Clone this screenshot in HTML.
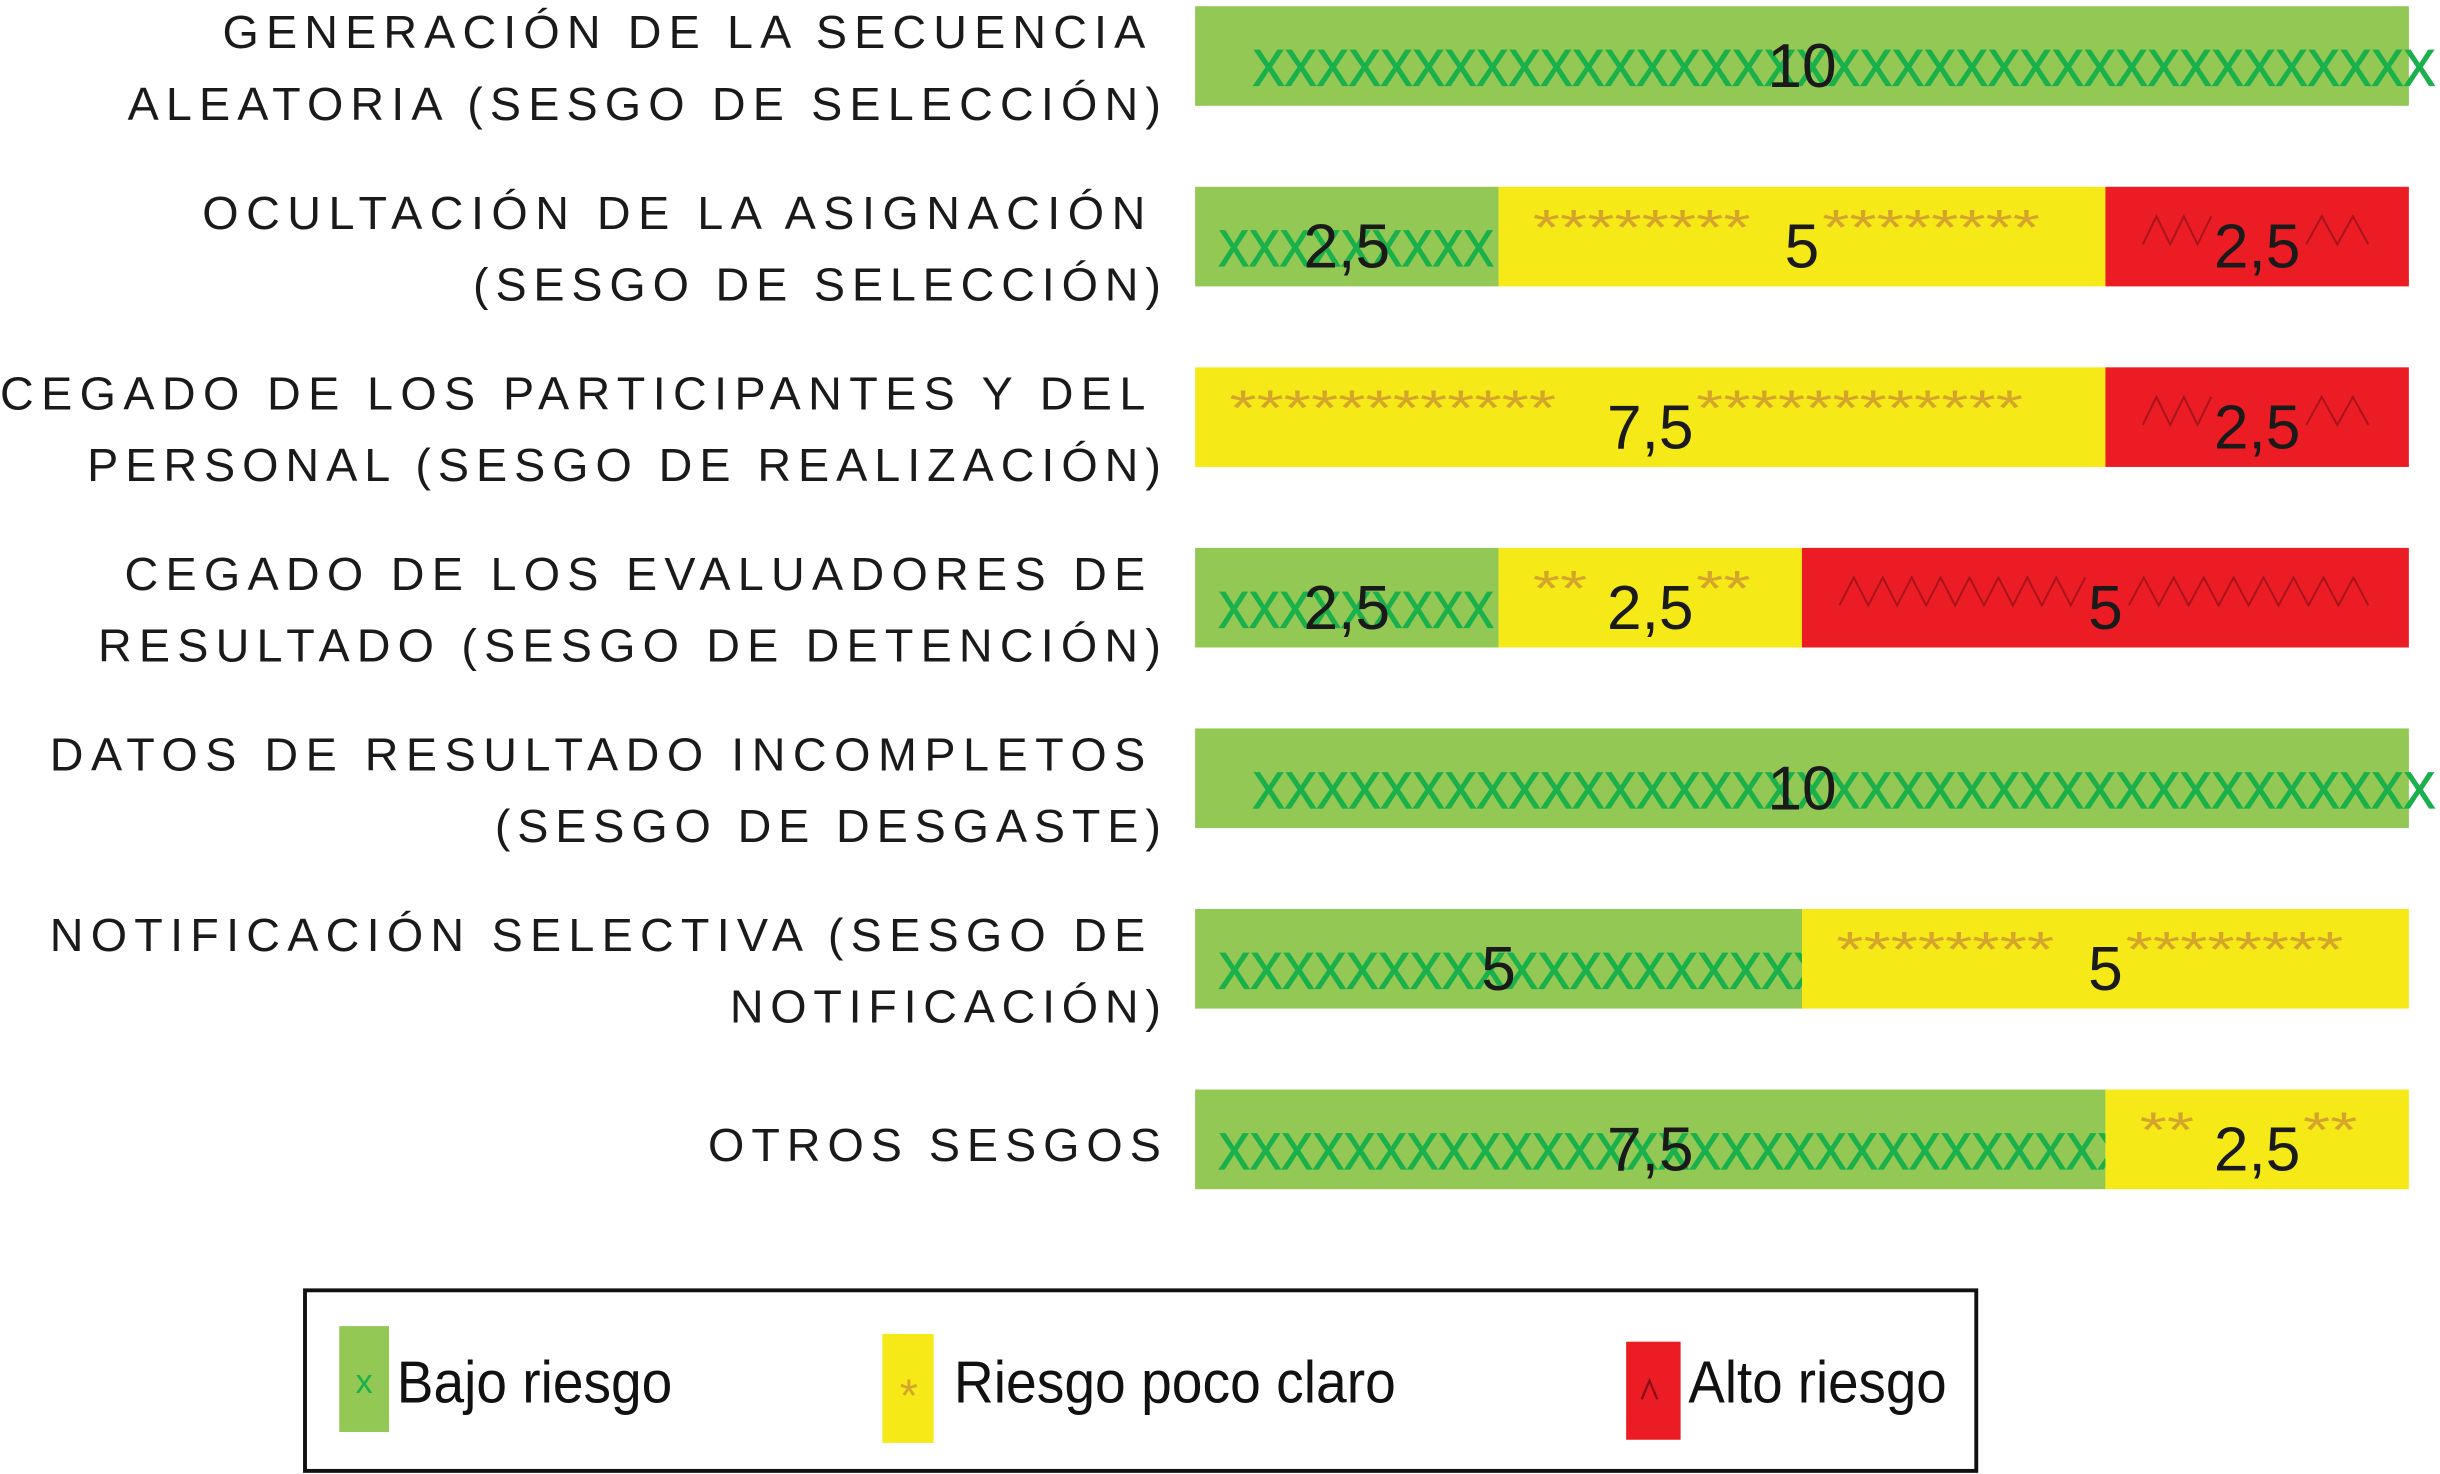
<!DOCTYPE html>
<html><head><meta charset="utf-8"><style>
html,body{margin:0;padding:0;background:#fff}
svg{display:block}
text{font-family:"Liberation Sans",sans-serif}
</style></head><body>
<svg id="chart" width="2440" height="1474" viewBox="0 0 1568 947" preserveAspectRatio="none" xmlns="http://www.w3.org/2000/svg">
<g id="labels"></g>
<g id="bars"></g>
<g id="legend">
  <rect x="196" y="829" width="1074" height="116" fill="#fff" stroke="#111" stroke-width="2.5"/>
  <g>
    <rect x="218" y="852" width="32" height="68" fill="#92c853"/>
    <text x="234" y="895" font-size="22" fill="#1ab04b" text-anchor="middle">x</text>
    <text x="255" y="901" font-size="38" fill="#111" textLength="177" lengthAdjust="spacingAndGlyphs">Bajo riesgo</text>
  </g>
  <g>
    <rect x="567" y="857" width="33" height="70" fill="#f5e918"/>
    <text x="584" y="907" font-size="30" fill="#d4a52a" text-anchor="middle">*</text>
    <text x="613" y="901" font-size="38" fill="#111" textLength="284" lengthAdjust="spacingAndGlyphs">Riesgo poco claro</text>
  </g>
  <g>
    <rect x="1045" y="862" width="35" height="63" fill="#ec1c24"/>
    <polyline points="1055,899 1060,887 1065,899" fill="none" stroke="#8a1015" stroke-width="1.5"/>
    <text x="1085" y="901" font-size="38" fill="#111" textLength="166" lengthAdjust="spacingAndGlyphs">Alto riesgo</text>
  </g>
</g>
</svg>
<script>
const lowValues = [10, 2.5, 0, 2.5, 10, 5, 7.5];
const unclearValues = [0, 5, 7.5, 2.5, 0, 5, 2.5];
const highValues = [0, 2.5, 2.5, 5, 0, 0, 0];
const labelLines = [
  ["GENERACIÓN DE LA SECUENCIA","ALEATORIA (SESGO DE SELECCIÓN)"],
  ["OCULTACIÓN DE LA ASIGNACIÓN","(SESGO DE SELECCIÓN)"],
  ["CEGADO DE LOS PARTICIPANTES Y DEL","PERSONAL (SESGO DE REALIZACIÓN)"],
  ["CEGADO DE LOS EVALUADORES DE","RESULTADO (SESGO DE DETENCIÓN)"],
  ["DATOS DE RESULTADO INCOMPLETOS","(SESGO DE DESGASTE)"],
  ["NOTIFICACIÓN SELECTIVA (SESGO DE","NOTIFICACIÓN)"],
  ["OTROS SESGOS"]
];
const labelLefts = [[143,82],[130,304],[0,56],[80,63],[32,318],[32,469],[455]];
const NS = "http://www.w3.org/2000/svg";
const X0 = 768, UNIT = 78, ROW0 = 4, ROWSTEP = 116, BARH = 64;
const xScale = v => X0 + v * UNIT;
const yRow = i => ROW0 + i * ROWSTEP;
function fmt(v){ return String(v).replace('.', ','); }
function mk(tag, attrs, parent){
  const e = document.createElementNS(NS, tag);
  for (const k in attrs) e.setAttribute(k, attrs[k]);
  parent.appendChild(e); return e;
}
const labels = document.getElementById('labels');
labelLines.forEach((lines, i) => {
  const y = yRow(i);
  lines.forEach((ln, j) => {
    let base, right;
    if (lines.length === 1) { base = y + 46; right = 746; }
    else { base = y + 27 + j * 46; right = j === 0 ? 736 : 746; }
    const left = labelLefts[i][j];
    const t = mk('text', {x: left, y: base, 'font-size': 30, fill: '#1a1a1a', textLength: right - left, lengthAdjust: 'spacing'}, labels);
    
    
    t.textContent = ln;
  });
});
const bars = document.getElementById('bars');
function drawSeg(i, start, val, kind){
  if (val <= 0) return;
  const y = yRow(i), s = xScale(start), e = xScale(start + val), w = e - s, cx = (s + e) / 2;
  const col = kind === 'low' ? '#92c853' : kind === 'unclear' ? '#f5e918' : '#ec1c24';
  const g = mk('g', {}, bars);
  
  
  const r = mk('rect', {x: s, y: y, width: w, height: BARH, fill: col}, g);
  
  
  const label = fmt(val);
  const nw = label.length === 1 ? 22 : 55;
  if (kind === 'low') {
    const st = w > 600 ? s + 37 : s + 15;
    const len = w > 600 ? w - 20 : (w > 300 ? w : w - 18);
    const n = Math.max(3, Math.round(len / 20.5));
    const t = mk('text', {x: st, y: y + 51, 'font-size': 33, fill: '#1ab04b', stroke: '#1ab04b', 'stroke-width': 0.8, textLength: len, lengthAdjust: 'spacingAndGlyphs'}, g);
    
    
    t.textContent = 'X'.repeat(n);
  } else if (kind === 'unclear') {
    const leftLen = Math.max(30, (cx - nw / 2 - 22) - (s + 25));
    const nl = Math.max(2, Math.round(leftLen / 17.5));
    const t1 = mk('text', {x: s + 22, y: y + 37, 'font-size': 32, fill: '#d4a52a', textLength: nl * 17.5, lengthAdjust: 'spacingAndGlyphs'}, g);
    
    
    t1.textContent = '*'.repeat(nl);
    const t2 = mk('text', {x: cx + nw / 2 + 2, y: y + 37, 'font-size': 32, fill: '#d4a52a', textLength: nl * 17.5, lengthAdjust: 'spacingAndGlyphs'}, g);
    
    
    t2.textContent = '*'.repeat(nl);
  } else {
    const zig = (a, b) => {
      const n = Math.max(2, Math.round((b - a) / 9.5));
      const step = (b - a) / n;
      let pts = [];
      for (let k = 0; k <= n; k++) pts.push((a + k * step) + ',' + (k % 2 ? y + 19 : y + 37));
      const p = mk('polyline', {points: pts.join(' '), fill: 'none', stroke: '#a8141b', 'stroke-width': 1.3}, g);
      
      
    };
    zig(s + 24, cx - nw / 2 - 2);
    zig(cx + nw / 2 + 4, Math.min(e - 26, cx + nw / 2 + 4 + (cx - nw / 2 - 2 - s - 24)));
  }
  const vt = mk('text', {x: cx, y: y + 52, 'font-size': 40, fill: '#1a1a1a', 'text-anchor': 'middle'}, g);
  
  
  vt.textContent = label;
}
lowValues.forEach((v, i) => {
  drawSeg(i, 0, lowValues[i], 'low');
  drawSeg(i, lowValues[i], unclearValues[i], 'unclear');
  drawSeg(i, lowValues[i] + unclearValues[i], highValues[i], 'high');
});
</script>
</body></html>
